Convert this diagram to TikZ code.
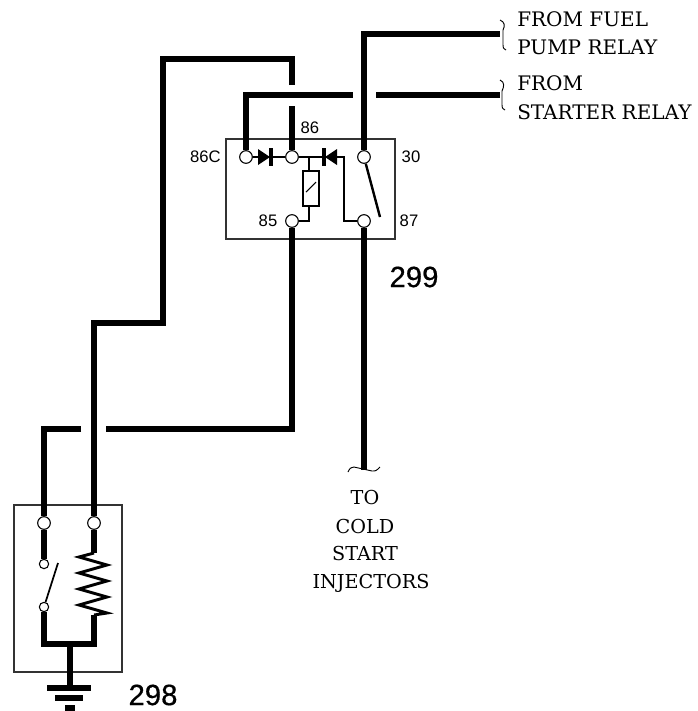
\documentclass[tikz,border=0pt]{standalone}
\usepackage{fontspec}
\setmainfont{Liberation Serif}
\newfontfamily\pinfont{Liberation Sans}
\newfontfamily\partfont[FakeBold=0.6]{Liberation Sans}
\newfontfamily\notefont{DejaVu Serif}

\begin{document}
\begin{tikzpicture}[x = 0.75pt, y = -0.75pt,
	wire/.style = {line width = 4.2pt},
	thinwire/.style = {line width = 1.8pt},
	boxline/.style = {line width = 0.8pt, black!80},
	terminal/.style = {circle, draw, fill = white, line width = 0.8pt, inner sep = 0pt, minimum size = 9.5pt},
	smallterminal/.style = {terminal, minimum size = 7pt},
	pin/.style = {font = \pinfont\fontsize{12.5}{14}\selectfont, inner sep = 0pt},
	partno/.style = {font = \partfont\fontsize{22}{24}\selectfont, inner sep = 0pt},
	note/.style = {font = \notefont\fontsize{15}{20}\selectfont, inner sep = 0pt, anchor = west},
	colednote/.style = {font = \notefont\fontsize{14.4}{20}\selectfont, inner sep = 0pt}]
	\useasboundingbox (0, 0) rectangle (697, 711);
	% boxes
	\draw[boxline] (226, 139) rectangle (395, 239);
	\draw[boxline] (14, 505) rectangle (122, 672);
	% terminals
	\node[terminal] (t86c) at (246, 157) {};
	\node[terminal] (t86) at (292, 157) {};
	\node[terminal] (t30) at (364, 157) {};
	\node[terminal] (t85) at (292, 221) {};
	\node[terminal] (t87) at (364, 221) {};
	\node[terminal] (tleft) at (44, 523) {};
	\node[terminal] (tright) at (94, 523) {};
	\node[smallterminal] (tupper) at (44, 564) {};
	\node[smallterminal] (tlower) at (44, 607) {};
	% free ends
	\coordinate (fuelend) at (500, 34);
	\coordinate (startend) at (500, 95);
	\coordinate (gapa) at (353, 95);
	\coordinate (gapb) at (376, 95);
	\coordinate (stubtop) at (292, 106);
	\coordinate (stubgap) at (292, 85);
	\coordinate (coldend) at (364, 470);
	\coordinate (gapc) at (106, 429);
	\coordinate (gapd) at (81, 429);
	\coordinate (swa) at (380, 217);
	\coordinate (swb) at (58, 563);
	\coordinate (coiltop) at (94, 553);
	\coordinate (coilend) at (94, 615);
	\coordinate (gndjoin) at (70, 644);
	\coordinate (gndbar) at (70, 688);
	% thick wires
	\draw[wire] (t30) |- (fuelend);
	\draw[wire] (t86c) |- (gapa);
	\draw[wire] (gapb) -- (startend);
	\draw[wire] (t86) -- (stubtop);
	\draw[wire] (stubgap) -- (292, 59) -- (163, 59) -- (163, 323) -- (94, 323) -- (tright);
	\draw[wire] (t87) -- (coldend);
	\draw[wire] (t85) |- (gapc);
	\draw[wire] (gapd) -| (tleft);
	\draw[wire] (tleft) -- (tupper);
	\draw[wire] (tright) -- (coiltop);
	\draw[wire] (tlower) |- (gndjoin);
	\draw[wire] (coilend) |- (gndjoin);
	\draw[wire] (gndjoin) -- (gndbar);
	% ground
	\fill (47, 685) rectangle (91, 691);
	\fill (55, 695) rectangle (83, 701);
	\fill (65, 705) rectangle (75, 711);
	% inside of 299
	\draw[thinwire] (t86c) -- (t86);
	\draw[thinwire] (t86) -- (344, 157) -- (344, 221) -- (t87);
	\draw[thinwire] (309, 157) -- (309, 171);
	\draw[thinwire] (t85) -- (309, 221) -- (309, 206);
	\fill (258, 149) -- (270, 157) -- (258, 165) -- cycle;
	\fill (269, 148) rectangle (273, 166);
	\fill (337, 149) -- (325, 157) -- (337, 165) -- cycle;
	\fill (322, 148) rectangle (326, 166);
	\draw[line width = 1.2pt] (303, 171) rectangle (319, 206);
	\draw[line width = 0.8pt] (306, 192) -- (316, 182);
	\draw[thinwire] (t30) -- (swa);
	% inside of 298
	\draw[line width = 1.3pt] (tlower) -- (swb);
	\draw[line width = 2.2pt] (coiltop) -- (79, 557) -- (107, 565) -- (79, 573) -- (107, 581) -- (79, 589) -- (107, 597) -- (79, 605) -- (107, 613) -- (coilend);
	% wire ends
	\draw[line width = 0.7pt] (500, 20) .. controls (505, 22) and (505, 26) .. (503, 30) -- (503, 45) .. controls (503, 48) .. (506, 50);
	\draw[line width = 0.7pt] (500, 80) .. controls (505, 82) and (504, 87) .. (502, 91) -- (502, 105) .. controls (502, 108) .. (505, 110);
	\draw[line width = 0.7pt] (348, 472) .. controls (350, 468) .. (354, 467) -- (372, 471) .. controls (376, 471) .. (380, 467);
	% pin numbers
	\node[pin, anchor = east] (l86c) at (221, 157) {86C};
	\node[pin] (l86) at (310, 128) {86};
	\node[pin] (l30) at (411, 157) {30};
	\node[pin] (l85) at (268, 221) {85};
	\node[pin] (l87) at (409, 221) {87};
	\node[partno] (l299) at (414, 277) {299};
	\node[partno] (l298) at (153, 695) {298};
	% notes
	\node[note] (nfuela) at (517, 19) {FROM FUEL};
	\node[note] (nfuelb) at (517, 47) {PUMP RELAY};
	\node[note] (nstarta) at (517, 83) {FROM};
	\node[note] (nstartb) at (517, 112) {STARTER RELAY};
	\node[colednote] (ncolda) at (365, 498) {TO};
	\node[colednote] (ncoldb) at (365, 527) {COLD};
	\node[colednote] (ncoldc) at (365, 554) {START};
	\node[colednote] (ncoldd) at (371, 583) {INJECTORS};
\end{tikzpicture}
\end{document}
